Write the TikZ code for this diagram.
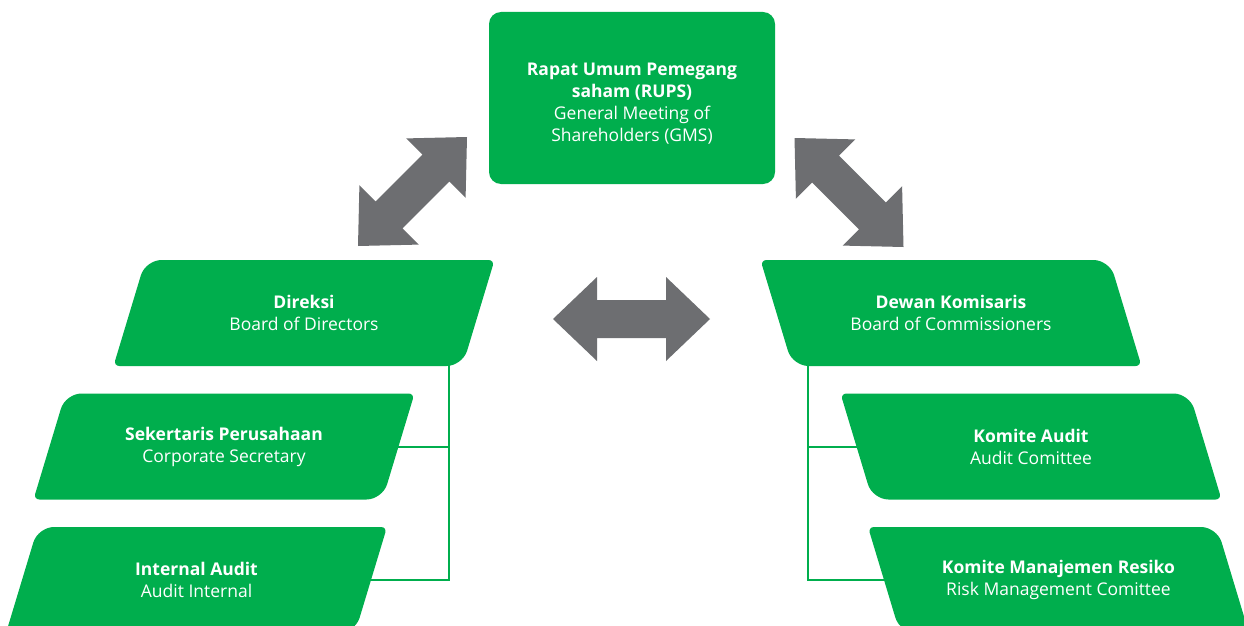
\documentclass[tikz,border=0pt]{standalone}
\usepackage{fontspec}
\setmainfont{Open Sans}
\usetikzlibrary{calc}

\definecolor{brandgreen}{RGB}{0,174,77}
\definecolor{arrowgrey}{RGB}{109,110,113}

\pgfdeclarelayer{lines}
\pgfdeclarelayer{boxes}
\pgfsetlayers{lines,boxes,main}

\tikzset{
  boxtext/.style={text=white, align=center, inner sep=0pt,
    font=\fontsize{17.5}{22}\selectfont},
  rupsbox/.style={fill=brandgreen, rounded corners=12pt,
    minimum width=286pt, minimum height=172pt, inner sep=0pt},
  conn/.style={draw=brandgreen, line width=2pt},
}

% Thick grey double-headed arrow between two named coordinates
\newcommand\fatarrow[2]{%
  \fill[arrowgrey] (#1)
    -- ($(#1)!44pt!(#2)!42pt!90:(#2)$)
    -- ($(#1)!44pt!(#2)!19pt!90:(#2)$)
    -- ($(#2)!44pt!(#1)!19pt!-90:(#1)$)
    -- ($(#2)!44pt!(#1)!42pt!-90:(#1)$)
    -- (#2)
    -- ($(#2)!44pt!(#1)!42pt!90:(#1)$)
    -- ($(#2)!44pt!(#1)!19pt!90:(#1)$)
    -- ($(#1)!44pt!(#2)!19pt!-90:(#2)$)
    -- ($(#1)!44pt!(#2)!42pt!-90:(#2)$)
    -- cycle;}

% Slanted green box: name, centre, slant, radius at TL/BR, radius at TR/BL, bold line, plain line
\newcommand\slantbox[7]{%
  \node[boxtext] (#1) at #2 {\textbf{#6}\\#7};
  \begin{pgfonlayer}{boxes}
    \fill[brandgreen] ([yshift=53pt]#1.center)
      [rounded corners=#5] -- ([shift={({174.5+(#3)},-53)}]#1.center)
      [rounded corners=#4] -- ([shift={({174.5-(#3)},53)}]#1.center)
      [rounded corners=#5] -- ([shift={({-174.5-(#3)},53)}]#1.center)
      [rounded corners=#4] -- ([shift={({-174.5+(#3)},-53)}]#1.center)
      [sharp corners] -- cycle;
  \end{pgfonlayer}}

\begin{document}
\begin{tikzpicture}[x=1pt, y=-1pt]
  \useasboundingbox (0,0) rectangle (1244,626);
  \begin{pgfonlayer}{lines}
    \fill[white] (0,0) rectangle (1244,626);
  \end{pgfonlayer}
  \clip (0,0) rectangle (1244,626);

  % top box
  \begin{pgfonlayer}{boxes}
    \node[rupsbox] (rups) at (632,98) {};
  \end{pgfonlayer}
  \node[boxtext] (rupstext) at (632,104)
    {\textbf{Rapat Umum Pemegang}\\\textbf{saham (RUPS)}\\General Meeting of\\Shareholders (GMS)};

  % left column
  \slantbox{dir}{(304,313)}{16}{16pt}{6pt}{Direksi}{Board of Directors}
  \slantbox{sec}{(224,446.5)}{16}{16pt}{6pt}{Sekertaris Perusahaan}{Corporate Secretary}
  \slantbox{iau}{(196.5,580)}{16}{16pt}{6pt}{Internal Audit}{Audit Internal}

  % right column
  \slantbox{dew}{(951,313)}{-16}{6pt}{16pt}{Dewan Komisaris}{Board of Commissioners}
  \slantbox{kau}{(1031,446.5)}{-16}{6pt}{16pt}{Komite Audit}{Audit Comittee}
  \slantbox{krm}{(1058.5,580)}{-16}{6pt}{16pt}{Komite Manajemen Resiko}{Risk Management Comittee}

  % reporting lines
  \begin{pgfonlayer}{lines}
    \coordinate (ltrunk) at ([xshift=145pt]dir.center);
    \draw[conn] (ltrunk) |- (iau.center);
    \draw[conn] (ltrunk |- sec.center) -- (sec.center);
    \coordinate (rtrunk) at ([xshift=-143pt]dew.center);
    \draw[conn] (rtrunk) |- (krm.center);
    \draw[conn] (rtrunk |- kau.center) -- (kau.center);
  \end{pgfonlayer}

  % relations between the organs
  \coordinate (rupsDirEnd) at (358,246);
  \coordinate (rupsDirTop) at (467,137);
  \coordinate (rupsDewTop) at (794.5,138);
  \coordinate (rupsDewEnd) at (903.5,247);
  \coordinate (dirDewL) at (553,319);
  \coordinate (dirDewR) at (710,319);
  \fatarrow{rupsDirEnd}{rupsDirTop}
  \fatarrow{rupsDewTop}{rupsDewEnd}
  \fatarrow{dirDewL}{dirDewR}
\end{tikzpicture}
\end{document}
